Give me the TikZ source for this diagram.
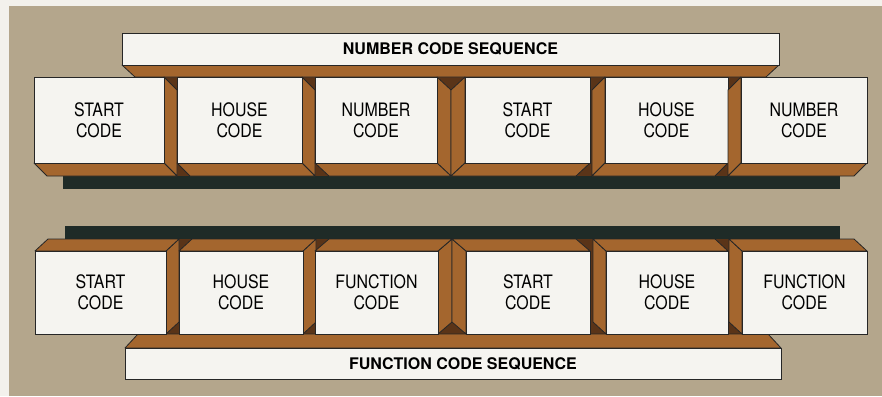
\documentclass[tikz,border=0pt]{standalone}
\usepackage{fontspec}
\setmainfont{TeX Gyre Heros}[FakeStretch=0.86]
\newfontfamily\seqfont{TeX Gyre Heros}
\definecolor{page}{HTML}{F3F1EC}
\definecolor{tan}{HTML}{B4A68C}
\definecolor{wood}{HTML}{A4662E}
\definecolor{wooddark}{HTML}{5A3418}
\definecolor{rail}{HTML}{1F2B27}
\definecolor{face}{HTML}{F5F4F0}
\definecolor{edge}{HTML}{262626}

\begin{document}
\begin{tikzpicture}[x=1pt,y=-1pt,line width=.8pt,
  side/.style={fill=wood,draw=edge,line join=round},
  front/.style={fill=face,draw=edge,inner sep=0pt,outer sep=0pt,align=center,
    font=\fontsize{18.5}{21}\selectfont},
  seqbar/.style={fill=face,draw=edge,inner sep=0pt,outer sep=0pt},
  seqtext/.style={inner sep=0pt,font=\seqfont\bfseries\fontsize{16}{18}\selectfont}]
\useasboundingbox (0,0) rectangle (882,396);
\fill[page] (0,0) rectangle (882,396);
\fill[tan] (9,6) rectangle (882,396);
% rails behind the two rows
\fill[rail] (63,176) rectangle (840,189);
\fill[rail] (65,226) rectangle (840,239);
\fill[wooddark] (164,77) rectangle (741,176);
\fill[wooddark] (166,239) rectangle (742,334);
% sequence bars
\draw[side] (122,65) -- (779,65) -- (766,77) -- (135,77) -- cycle;
\node[seqbar,minimum width=657,minimum height=32] (numbar) at (450.5,49) {};
\node[seqtext] (numseq) at (numbar) {NUMBER CODE SEQUENCE};
\draw[side] (125,348) -- (781,348) -- (768,334) -- (138,334) -- cycle;
\node[seqbar,minimum width=656,minimum height=31] (funbar) at (453,363.5) {};
\node[seqtext] (funseq) at (463,363.5) {FUNCTION CODE SEQUENCE};
% the code boxes: x left/right, y top/bottom, depth, name, text
\foreach \xa/\xb/\ya/\yb/\ox/\oy/\nm/\txt in {
  34/164/77/163/13/13/nstart1/{START\\CODE},
  177/302/77/163/13/13/nhouse1/{HOUSE\\CODE},
  315/437/77/163/14/13/nnum1/{NUMBER\\CODE},
  465/590/77/163/-14/13/nstart2/{START\\CODE},
  605/728/77/163/-13/13/nhouse2/{HOUSE\\CODE},
  741/867/77/163/-13/13/nnum2/{NUMBER\\CODE},
  35/166/251/334/13/-12/fstart1/{START\\CODE},
  179/303/251/334/13/-12/fhouse1/{HOUSE\\CODE},
  315/438/251/334/14/-12/ffun1/{FUNCTION\\CODE},
  466/590/251/334/-14/-12/fstart2/{START\\CODE},
  606/728/251/334/-13/-12/fhouse2/{HOUSE\\CODE},
  742/867/251/334/-13/-12/ffun2/{FUNCTION\\CODE}}{
  \pgfmathsetmacro\xs{\ox>0 ? \xb : \xa}
  \pgfmathsetmacro\yh{\oy>0 ? \yb : \ya}
  \draw[side] (\xs,\ya) -- ({\xs+(\ox)},{\ya+(\oy)}) -- ({\xs+(\ox)},{\yb+(\oy)}) -- (\xs,\yb) -- cycle;
  \draw[side] (\xa,\yh) -- (\xb,\yh) -- ({\xb+(\ox)},{\yh+(\oy)}) -- ({\xa+(\ox)},{\yh+(\oy)}) -- cycle;
  \node[front,minimum width=\xb-\xa,minimum height=\yb-\ya] (\nm) at ({(\xa+\xb)/2},{(\ya+\yb)/2}) {\txt};
}
\end{tikzpicture}
\end{document}
